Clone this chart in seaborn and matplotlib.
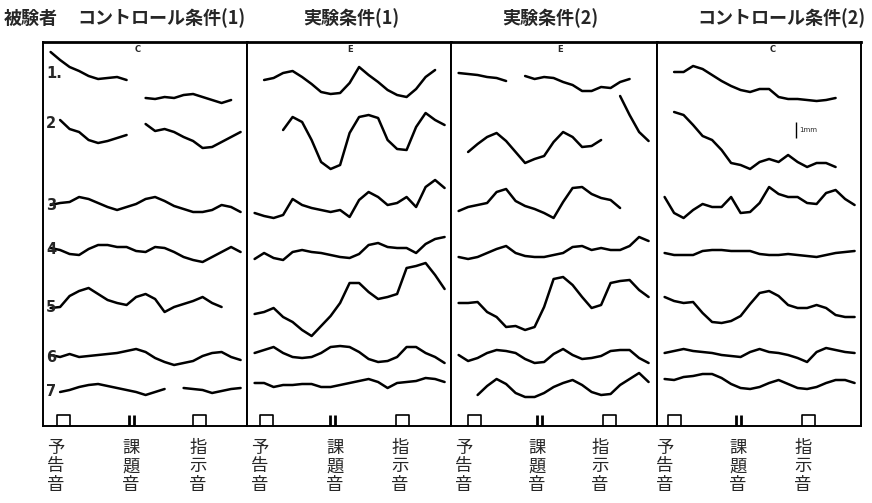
import numpy as np
import pandas as pd
import matplotlib
matplotlib.use("Agg")
import matplotlib.pyplot as plt
import seaborn as sns

nan = np.nan

conditions = ["コントロール条件(1)", "実験条件(1)", "実験条件(2)", "コントロール条件(2)"]
panel_letters = ["C", "E", "E", "C"]
subjects = ["1.", "2", "3", "4", "5", "6", "7"]
stimuli = ["予告音", "課題音", "指示音"]

# sampling grid along each record (px from panel's left edge)
t = 7.6 + 9.5 * np.arange(21)

# pen position of each subject's trace (px from top of page), NaN = pen lifted
c1_traces = [
    [52, 60, 67, 71, 76, 79, 78, 77, 80, nan, 98, 99, 97, 98, 95, 94, 97, 100, 103, 100, nan],
    [nan, 120, 129, 132, 140, 143, 141, 138, 135, nan, 124, 131, 129, 132, 137, 141, 148, 147, 142, 137, 132],
    [205, 203, 202, 197, 199, 203, 207, 210, 207, 204, 199, 197, 201, 206, 209, 212, 212, 210, 205, 207, 212],
    [248, 250, 254, 255, 249, 245, 245, 247, 247, 251, 252, 247, 248, 252, 257, 260, 262, 257, 252, 247, 252],
    [308, 307, 296, 291, 288, 294, 300, 303, 305, 297, 294, 299, 312, 307, 304, 301, 297, 303, 307, nan, nan],
    [355, 357, 354, 357, 356, 355, 354, 353, 351, 349, 352, 358, 362, 365, 363, 361, 356, 353, 352, 357, 360],
    [nan, 392, 390, 387, 385, 384, 386, 388, 390, 392, 395, 392, 389, nan, 388, 389, 390, 393, 391, 389, 388],
]
e1_traces = [
    [nan, 80, 78, 73, 71, 77, 84, 92, 94, 93, 83, 67, 75, 82, 90, 95, 97, 89, 77, 70, nan],
    [nan, nan, nan, 130, 117, 122, 140, 162, 169, 165, 133, 117, 115, 118, 140, 149, 150, 127, 113, 120, 125],
    [213, 216, 218, 215, 199, 205, 208, 210, 212, 210, 217, 200, 192, 197, 205, 203, 197, 207, 187, 180, 188],
    [259, 253, 258, 260, 252, 250, 252, 253, 255, 257, 258, 254, 245, 243, 247, 248, 248, 253, 244, 239, 237],
    [314, 312, 308, 317, 322, 330, 336, 326, 316, 303, 283, 283, 292, 299, 297, 294, 268, 266, 263, 275, 289],
    [353, 350, 347, 353, 357, 358, 357, 353, 347, 346, 347, 352, 359, 362, 361, 357, 347, 347, 353, 357, 363],
    [383, 383, 387, 385, 385, 384, 384, 387, 387, 385, 383, 381, 379, 382, 388, 383, 382, 381, 378, 379, 382],
]
e2_traces = [
    [73, 74, 75, 77, 78, 81, nan, 76, 79, 77, 78, 82, 85, 91, 91, 87, 88, 82, 79, nan, nan],
    [nan, 152, 144, 137, 133, 141, 152, 163, 159, 156, 142, 132, 137, 147, 146, 140, nan, 96, 115, 132, 141],
    [211, 207, 205, 203, 192, 189, 201, 206, 209, 213, 218, 202, 188, 187, 194, 198, 200, 208, nan, nan, nan],
    [257, 259, 257, 253, 249, 246, 253, 256, 257, 257, 255, 253, 247, 246, 250, 248, 250, 250, 246, 237, 241],
    [303, 303, 302, 312, 317, 327, 326, 330, 327, 307, 279, 277, 285, 297, 308, 305, 283, 281, 280, 290, 297],
    [355, 361, 358, 353, 350, 351, 353, 359, 363, 362, 354, 349, 355, 359, 358, 356, 351, 350, 350, 358, 363],
    [nan, nan, 395, 386, 379, 384, 393, 397, 397, 393, 387, 383, 380, 385, 392, 395, 394, 385, 379, 373, 382],
]
c2_traces = [
    [nan, 72, 72, 66, 69, 75, 81, 86, 90, 92, 89, 89, 97, 99, 99, 100, 101, 100, 98, nan, nan],
    [nan, 112, 115, 125, 136, 140, 150, 163, 165, 169, 162, 159, 162, 155, 162, 167, 163, 163, 167, nan, nan],
    [197, 213, 218, 210, 204, 207, 207, 197, 213, 212, 203, 187, 194, 197, 197, 203, 204, 193, 190, 199, 205],
    [253, 255, 255, 255, 251, 250, 250, 251, 251, 251, 254, 255, 255, 254, 255, 256, 257, 255, 253, 252, 251],
    [297, 301, 303, 302, 313, 322, 323, 321, 316, 304, 293, 291, 296, 305, 308, 308, 305, 308, 315, 317, 317],
    [353, 351, 349, 351, 352, 353, 355, 356, 357, 352, 349, 352, 353, 355, 358, 362, 352, 348, 350, 352, 353],
    [379, 380, 377, 376, 374, 374, 378, 384, 388, 389, 387, 383, 380, 384, 388, 389, 387, 383, 380, 380, 383],
]

# stimulus onsets (px from panel left): 予告音 square, 課題音 double bar, 指示音 square
stim_onsets = [[14, 86, 150], [13, 83, 149], [17, 86, 152], [11, 79, 145]]
label_x = [[13, 88, 155], [13, 88, 153], [13, 86, 149], [8, 81, 146]]
subject_y = [73, 123, 206, 250, 307, 357, 392]
letter_x = [95, 103, 109, 116]
header_x = [4, 77, 303, 502, 697]

# layout (pixels)
W, H = 872, 503
edges = [43, 247, 451, 657, 861]
TOP, BASE = 42, 426

all_traces = [c1_traces, e1_traces, e2_traces, c2_traces]
rows = []
for p, traces in enumerate(all_traces):
    for s, ys in enumerate(traces):
        ys = np.asarray(ys, float)
        seg = np.cumsum(np.isnan(ys))
        for ti, yi, gi in zip(t, ys, seg):
            if not np.isnan(yi):
                rows.append((p, s, f"{s}-{gi}", ti, yi))
df = pd.DataFrame(rows, columns=["panel", "subject", "unit", "t", "y"])

sns.set_theme(style="white")
plt.rcParams["font.family"] = ["Noto Sans CJK JP", "DejaVu Sans"]

fig = plt.figure(figsize=(W / 100, H / 100), dpi=100)
fig.patch.set_facecolor("white")

for p in range(4):
    left, right = edges[p], edges[p + 1]
    ax = fig.add_axes([left / W, 1 - BASE / H, (right - left) / W, (BASE - TOP) / H])
    sub = df[df["panel"] == p]
    sns.lineplot(data=sub, x="t", y="y", units="unit", estimator=None, sort=False,
                 color="black", linewidth=1.8, ax=ax, legend=False)
    ax.set_xlim(0, right - left)
    ax.set_ylim(BASE, TOP)
    ax.set(xticks=[], yticks=[], xlabel="", ylabel="")
    ax.set_facecolor("white")
    for name, sp in ax.spines.items():
        sp.set_visible(True)
        sp.set_color("black")
        sp.set_linewidth(2.0 if name == "top" else 1.4)

    sq1, bar, sq2 = stim_onsets[p]
    for x0 in (sq1, sq2):
        ax.plot([x0, x0, x0 + 13, x0 + 13], [BASE, BASE - 11, BASE - 11, BASE],
                color="black", lw=1.2, clip_on=False)
    ax.vlines([bar, bar + 5], BASE - 11, BASE, color="black", lw=2.0)

    ax.text(letter_x[p], 50, panel_letters[p], fontsize=6, fontweight="bold",
            ha="center", va="center", family="DejaVu Sans")

    if p == 0:
        for lab, yy in zip(subjects, subject_y):
            ax.text(3, yy, lab, fontsize=10.5, fontweight="bold", ha="left", va="center",
                    family="DejaVu Sans")
    if p == 3:
        ax.vlines(139, 122, 138, color="black", lw=1.0)
        ax.text(142, 130, "1mm", fontsize=5, ha="left", va="center", family="DejaVu Sans")

    for name, xc in zip(stimuli, label_x[p]):
        for i, ch in enumerate(name):
            fig.text((left + xc) / W, 1 - (448 + 18.5 * i) / H, ch, fontsize=12.5,
                     ha="center", va="center")

for txt, xx in zip(["被験者"] + conditions, header_x):
    fig.text(xx / W, 1 - 18 / H, txt, fontsize=13, fontweight="bold", ha="left", va="center")

fig.savefig("out.png", dpi=100)
